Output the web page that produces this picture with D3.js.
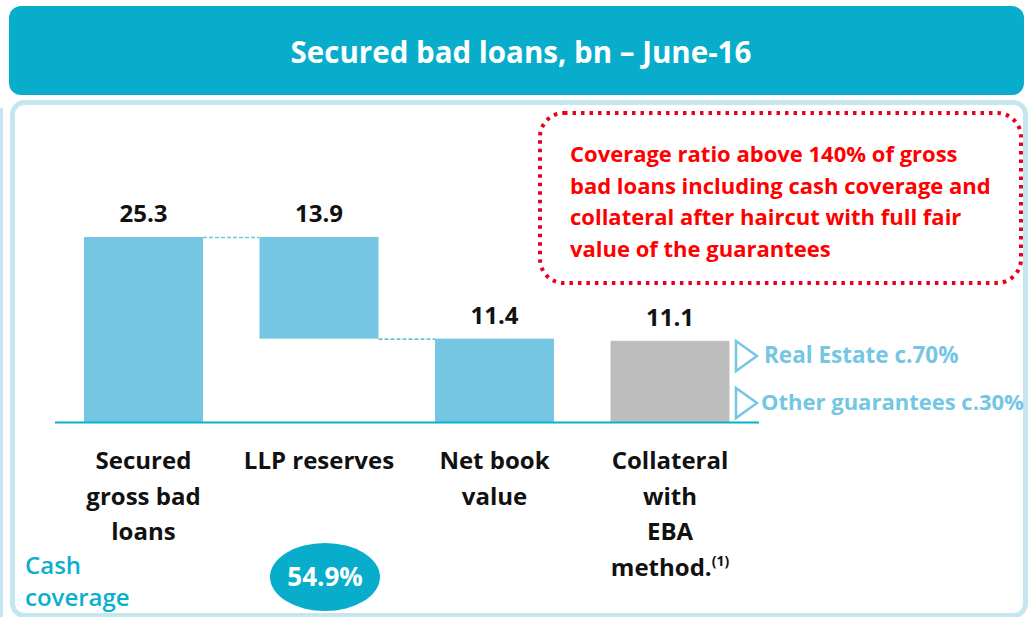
<!DOCTYPE html>
<html>
<head>
<meta charset="utf-8">
<script src="https://cdn.jsdelivr.net/npm/d3@7"></script>
<style>
  body { margin: 0; background: #fff; }
  svg { display: block; font-family: "Open Sans", sans-serif; }
</style>
</head>
<body>
<div id="chart"></div>
<script>
// data
const categories = ["Secured gross bad loans", "LLP reserves", "Net book value", "Collateral with EBA method."];
const labelLines = [["Secured", "gross bad", "loans"], ["LLP reserves"], ["Net book", "value"], ["Collateral", "with", "EBA", "method."]];
const values = [25.3, 13.9, 11.4, 11.1];
const barBase = [0, 11.4, 0, 0];
const barTop = [25.3, 25.3, 11.4, 11.1];
const barKind = ["total", "step", "total", "collateral"];
const collateralSplit = ["Real Estate c.70%", "Other guarantees c.30%"];
const cashCoverage = "54.9%";
const noteLines = ["Coverage ratio above 140% of gross", "bad loans including cash coverage and", "collateral after haircut with full fair", "value of the guarantees"];

const width = 1030, height = 617;
const svg = d3.select("#chart").append("svg").attr("width", width).attr("height", height);

// header
svg.append("rect").attr("x", 9).attr("y", 6).attr("width", 1015).attr("height", 89)
    .attr("rx", 12).attr("fill", "#07ADCB");
svg.append("text").attr("x", 521).attr("y", 63).attr("text-anchor", "middle")
    .attr("fill", "#fff").style("font-size", "29.5px").style("font-weight", "bold")
    .text("Secured bad loans, bn \u2013 June-16");

// panel
svg.append("rect").attr("x", 12.5).attr("y", 102.5).attr("width", 1013).attr("height", 513)
    .attr("rx", 12).attr("fill", "#fff").attr("stroke", "#C6E6EF").attr("stroke-width", 5);
svg.append("rect").attr("x", 0).attr("y", 108).attr("width", 3).attr("height", 509).attr("fill", "#C6E6EF");

// scales
const x = d3.scaleBand().domain(categories).range([84, 729.5]).paddingInner(0.322).paddingOuter(0);
const y = d3.scaleLinear().domain([0, 25.3]).range([422, 237]);
const barColor = d => d === "collateral" ? "#BDBDBD" : "#74C6E2";

// connectors
const links = [
    {from: 0, to: 1, v: barTop[0], color: "#74C6E2"},
    {from: 1, to: 2, v: barBase[1], color: "#3AA8C8"}
];
svg.selectAll("line.link").data(links).enter().append("line")
    .attr("x1", d => x(categories[d.from]) + x.bandwidth())
    .attr("x2", d => x(categories[d.to]))
    .attr("y1", d => y(d.v) + 0.5).attr("y2", d => y(d.v) + 0.5)
    .attr("stroke", d => d.color).attr("stroke-width", 1.3).attr("stroke-dasharray", "4,2");

// bars
svg.selectAll("rect.bar").data(categories).enter().append("rect")
    .attr("x", d => x(d))
    .attr("y", (d, i) => y(barTop[i]))
    .attr("width", x.bandwidth())
    .attr("height", (d, i) => y(barBase[i]) - y(barTop[i]))
    .attr("fill", (d, i) => barColor(barKind[i]));

// axis line
svg.append("line").attr("x1", 55).attr("x2", 759).attr("y1", 422.5).attr("y2", 422.5)
    .attr("stroke", "#0AAFCF").attr("stroke-width", 2);

// value labels
svg.selectAll("text.val").data(categories).enter().append("text")
    .attr("x", d => x(d) + x.bandwidth() / 2)
    .attr("y", (d, i) => y(barTop[i]) - 15)
    .attr("text-anchor", "middle").style("font-size", "24px").style("font-weight", "bold")
    .attr("fill", "#111")
    .text((d, i) => values[i].toFixed(1));

// category labels
categories.forEach((c, i) => {
    const t = svg.append("text").attr("text-anchor", "middle")
        .style("font-size", "24px").style("font-weight", "bold").attr("fill", "#111");
    labelLines[i].forEach((line, j) => {
        t.append("tspan").attr("x", x(c) + x.bandwidth() / 2).attr("y", 469 + j * 35.5).text(line);
        if (i === 3 && j === labelLines[i].length - 1) {
            t.append("tspan").attr("dy", -10).style("font-size", "14px").text("(1)");
        }
    });
});

// collateral split markers
const split = svg.selectAll("g.split").data(collateralSplit).enter().append("g")
    .attr("transform", (d, i) => `translate(735, ${340 + i * 47})`);
split.append("path").attr("d", "M1,1 L22,16 L1,31 Z").attr("fill", "none")
    .attr("stroke", "#74C6E2").attr("stroke-width", 2.5);
split.append("text").attr("x", (d, i) => i === 0 ? 29 : 26).attr("y", 23)
    .attr("fill", "#74C6E2").style("font-size", (d, i) => i === 0 ? "22.5px" : "22px").style("font-weight", "bold")
    .text(d => d);

// cash coverage
const cash = svg.append("text").attr("x", 25).attr("fill", "#0AAFCF")
    .style("font-size", "24px").style("font-weight", "600");
cash.append("tspan").attr("x", 25).attr("y", 574).text("Cash");
cash.append("tspan").attr("x", 25).attr("y", 606).text("coverage");
const cx = x(categories[1]) + x.bandwidth() / 2 + 6;
svg.append("ellipse").attr("cx", cx).attr("cy", 577).attr("rx", 55).attr("ry", 34).attr("fill", "#07ADCB");
svg.append("text").attr("x", cx).attr("y", 586).attr("text-anchor", "middle").attr("fill", "#fff")
    .style("font-size", "26px").style("font-weight", "bold").text(cashCoverage);

// red note box
svg.append("rect").attr("x", 540).attr("y", 113).attr("width", 481).attr("height", 170).attr("rx", 24)
    .attr("fill", "none").attr("stroke", "#E8001C").attr("stroke-width", 4).attr("stroke-dasharray", "3.5,5");
const note = svg.append("text").attr("fill", "#FF0000").style("font-size", "22px").style("font-weight", "bold");
noteLines.forEach((l, i) => note.append("tspan").attr("x", 570).attr("y", 162 + i * 31.5).text(l));
</script>
</body>
</html>
